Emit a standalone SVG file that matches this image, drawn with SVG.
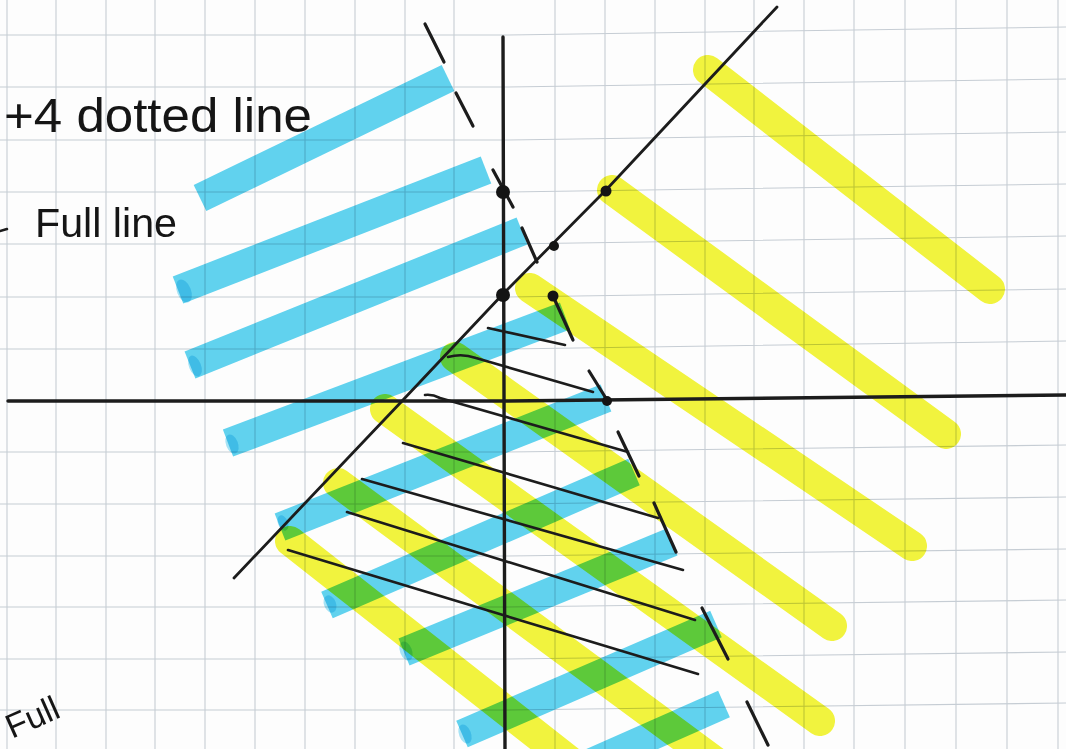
<svg xmlns="http://www.w3.org/2000/svg" width="1066" height="749" viewBox="0 0 1066 749">
  <style>
    .grid line, .grid path { stroke: #c6cdd4; stroke-width: 1.1; fill: none; }
    .blue { stroke: #62d4f0; stroke-width: 29; stroke-linecap: butt; fill: none; mix-blend-mode: multiply; }
    .blob { fill: #3cc6ee; opacity: 0.45; mix-blend-mode: multiply; }
    .yellow { stroke: #f3f53e; stroke-width: 30; stroke-linecap: round; fill: none; mix-blend-mode: multiply; }
    .ink { stroke: #1c1c1c; fill: none; stroke-linecap: round; stroke-linejoin: round; }
    .axis { stroke-width: 3.4; }
    .main { stroke-width: 2.8; }
    .dash { stroke-width: 3.2; }
    .hatch { stroke-width: 2.6; }
    .dot { fill: #141414; }
    .hand { font-family: "Liberation Sans", "DejaVu Sans", sans-serif; fill: #151515; }
  </style>
  <rect x="0" y="0" width="1066" height="749" fill="#fdfdfd"/>

  <g id="grid" class="grid">
    <line x1="7" y1="0" x2="7" y2="749"/>
    <line x1="56" y1="0" x2="56" y2="749"/>
    <line x1="106" y1="0" x2="106" y2="749"/>
    <line x1="155" y1="0" x2="155" y2="749"/>
    <line x1="205" y1="0" x2="205" y2="749"/>
    <line x1="255" y1="0" x2="255" y2="749"/>
    <line x1="305" y1="0" x2="305" y2="749"/>
    <line x1="355" y1="0" x2="355" y2="749"/>
    <line x1="405" y1="0" x2="405" y2="749"/>
    <line x1="454" y1="0" x2="454" y2="749"/>
    <line x1="555" y1="0" x2="555" y2="749"/>
    <line x1="605" y1="0" x2="605" y2="749"/>
    <line x1="655" y1="0" x2="655" y2="749"/>
    <line x1="705" y1="0" x2="705" y2="749"/>
    <line x1="754" y1="0" x2="754" y2="749"/>
    <line x1="804" y1="0" x2="804" y2="749"/>
    <line x1="854" y1="0" x2="854" y2="749"/>
    <line x1="905" y1="0" x2="905" y2="749"/>
    <line x1="956" y1="0" x2="956" y2="749"/>
    <line x1="1007" y1="0" x2="1007" y2="749"/>
    <line x1="1058" y1="0" x2="1058" y2="749"/>
    <path d="M0 35 L503 35 L1066 27"/>
    <path d="M0 87 L503 87 L1066 79"/>
    <path d="M0 140 L503 140 L1066 132"/>
    <path d="M0 192 L503 192 L1066 184"/>
    <path d="M0 244 L503 244 L1066 236"/>
    <path d="M0 297 L503 297 L1066 289"/>
    <path d="M0 349 L503 349 L1066 341"/>
    <path d="M0 452 L503 452 L1066 445"/>
    <path d="M0 504 L503 504 L1066 497"/>
    <path d="M0 556 L503 556 L1066 549"/>
    <path d="M0 607 L503 607 L1066 600"/>
    <path d="M0 659 L503 659 L1066 652"/>
    <path d="M0 710 L503 710 L1066 703"/>
  </g>

  <g id="highlight-blue">
    <line class="blue" x1="200" y1="198" x2="448" y2="78"/>
    <line class="blue" x1="178" y1="290" x2="486" y2="170"/>
    <line class="blue" x1="190" y1="365" x2="522" y2="231"/>
    <line class="blue" x1="228" y1="443" x2="565" y2="316"/>
    <line class="blue" x1="280" y1="527" x2="606" y2="398"/>
    <line class="blue" x1="327" y1="605" x2="634" y2="472"/>
    <line class="blue" x1="404" y1="652" x2="672" y2="542"/>
    <line class="blue" x1="462" y1="734" x2="716" y2="624"/>
    <line class="blue" x1="586" y1="765" x2="724" y2="704"/>
    <ellipse class="blob" cx="184" cy="291" rx="7" ry="12" transform="rotate(-22 184 291)"/>
    <ellipse class="blob" cx="195" cy="366" rx="6" ry="11" transform="rotate(-22 195 366)"/>
    <ellipse class="blob" cx="232" cy="444" rx="6" ry="10" transform="rotate(-22 232 444)"/>
    <ellipse class="blob" cx="283" cy="523" rx="5" ry="8" transform="rotate(-22 283 523)"/>
    <ellipse class="blob" cx="330" cy="604" rx="6" ry="9" transform="rotate(-22 330 604)"/>
    <ellipse class="blob" cx="406" cy="651" rx="6" ry="10" transform="rotate(-22 406 651)"/>
    <ellipse class="blob" cx="465" cy="734" rx="6" ry="10" transform="rotate(-22 465 734)"/>
  </g>

  <g id="highlight-yellow">
    <line class="yellow" x1="708" y1="70" x2="990" y2="289"/>
    <line class="yellow" x1="612" y1="190" x2="946" y2="434"/>
    <line class="yellow" x1="530" y1="288" x2="912" y2="546"/>
    <line class="yellow" x1="455" y1="357" x2="832" y2="626"/>
    <line class="yellow" x1="385" y1="409" x2="820" y2="721"/>
    <line class="yellow" x1="338" y1="483" x2="720" y2="765"/>
    <line class="yellow" x1="290" y1="541" x2="575" y2="765"/>
  </g>

  <g id="axes" class="ink axis">
    <path d="M8 401 L503 401 L1066 395"/>
    <path d="M503 37 L505 749"/>
  </g>

  <g id="full-line" class="ink main">
    <path d="M234 578 L403 400 L503 294 L606 190 L777 7"/>
  </g>

  <g id="dotted-line" class="ink dash">
    <line x1="425" y1="24" x2="444" y2="62"/>
    <line x1="456" y1="93" x2="473" y2="126"/>
    <line x1="493" y1="170" x2="513" y2="207"/>
    <line x1="522" y1="228" x2="537" y2="262"/>
    <line x1="553" y1="296" x2="573" y2="340"/>
    <line x1="589" y1="371" x2="607" y2="400"/>
    <line x1="618" y1="432" x2="639" y2="476"/>
    <line x1="654" y1="503" x2="676" y2="552"/>
    <line x1="702" y1="608" x2="728" y2="659"/>
    <line x1="747" y1="702" x2="768" y2="745"/>
  </g>

  <g id="hatching" class="ink hatch">
    <line x1="488" y1="328" x2="565" y2="345"/>
    <path d="M448 357 Q462 353 476 358 L593 392"/>
    <path d="M425 395 Q432 394 440 398 L628 452"/>
    <line x1="403" y1="443" x2="658" y2="518"/>
    <line x1="362" y1="479" x2="683" y2="570"/>
    <line x1="347" y1="512" x2="695" y2="620"/>
    <line x1="288" y1="550" x2="698" y2="674"/>
  </g>

  <g id="points">
    <circle class="dot" cx="503" cy="192" r="7"/>
    <circle class="dot" cx="503" cy="295" r="7"/>
    <circle class="dot" cx="606" cy="191" r="5.5"/>
    <circle class="dot" cx="554" cy="246" r="5"/>
    <circle class="dot" cx="553" cy="296" r="5.5"/>
    <circle class="dot" cx="607" cy="401" r="5"/>
  </g>

  <g id="labels">
    <text class="hand" x="4" y="132" font-size="48" textLength="308" lengthAdjust="spacingAndGlyphs">+4 dotted line</text>
    <line class="ink" x1="0" y1="231" x2="7" y2="229" stroke-width="2.5"/>
    <text class="hand" x="35" y="237" font-size="40" textLength="142" lengthAdjust="spacingAndGlyphs">Full line</text>
    <text class="hand" x="12" y="739" font-size="34" transform="rotate(-24 12 739)">Full</text>
  </g>
</svg>
